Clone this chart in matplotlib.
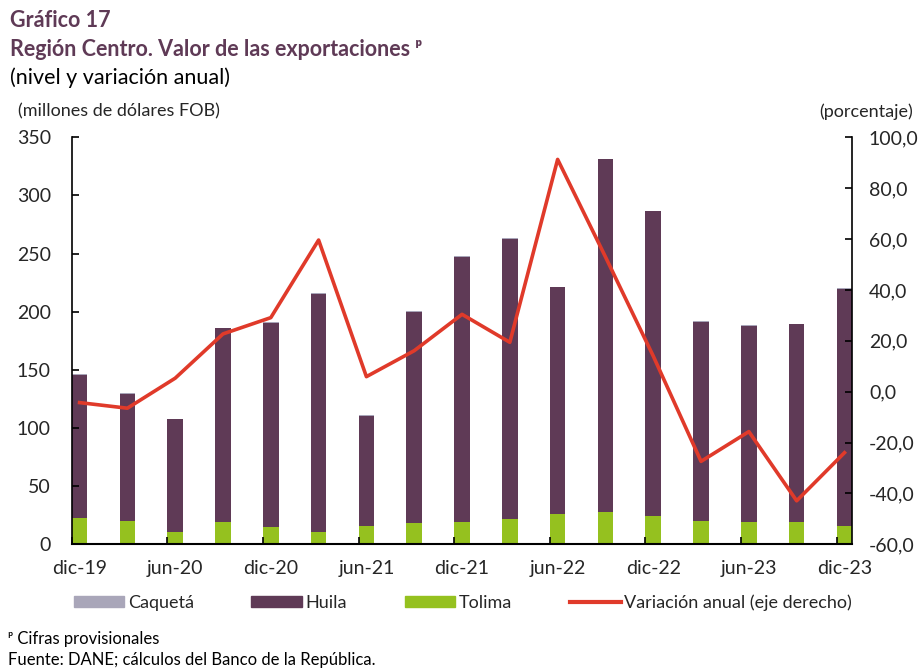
import numpy as np
import matplotlib.pyplot as plt
from matplotlib.patches import Patch
from matplotlib.lines import Line2D

periodos = ['dic-19', 'mar-20', 'jun-20', 'sep-20', 'dic-20', 'mar-21', 'jun-21', 'sep-21',
            'dic-21', 'mar-22', 'jun-22', 'sep-22', 'dic-22', 'mar-23', 'jun-23', 'sep-23', 'dic-23']
tolima = [22.3, 20.3, 10.3, 18.9, 14.9, 10.3, 15.7, 18.0, 18.9, 21.5, 25.8, 28.1, 24.6, 20.3, 18.9, 18.9, 15.7]
huila = [123.6, 109.0, 97.2, 166.8, 175.4, 205.3, 95.0, 182.1, 228.5, 241.4, 195.2, 303.0, 261.8, 170.9, 169.2, 170.3, 204.2]
caqueta = [0.5, 0.5, 0.5, 0.5, 0.5, 0.5, 0.5, 0.5, 0.5, 0.5, 0.5, 0.5, 0.5, 0.5, 0.5, 0.5, 0.5]
variacion = [-4.3, -6.5, 5.3, 22.7, 29.1, 59.6, 5.9, 16.1, 30.4, 19.4, 91.3, 53.0, 14.0, -27.4, -15.7, -42.9, -24.0]

c_huila = '#5f3a56'
c_tolima = '#95c11f'
c_caq = '#a9a6b9'
c_linea = '#e03a2a'
c_titulo = '#5f3a56'
c_texto = '#262626'

plt.rcParams['font.family'] = ['Lato', 'DejaVu Sans']

fig = plt.figure(figsize=(9.2, 6.69), dpi=100)
ax = fig.add_axes([0.078, 0.1864, 0.8484, 0.6084])

x = np.arange(len(periodos))
w = 0.327
tol = np.array(tolima)
hui = np.array(huila)
ax.bar(x, tol, w, color=c_tolima, label='Tolima')
ax.bar(x, hui, w, bottom=tol, color=c_huila, label='Huila')
ax.bar(x, caqueta, w, bottom=tol + hui, color=c_caq, label='Caquetá')

ax.set_xlim(-w / 2, len(periodos) - 1 + w / 2)
ax.set_ylim(0, 350)
ax.set_yticks(range(0, 351, 50))
ax.set_xticks(x[::2])
ax.set_xticklabels(periodos[::2])
ax.set_xticks(x[::2] - w / 2, minor=True)
ax.tick_params(axis='x', which='major', length=0, pad=11, labelsize=14, colors=c_texto)
ax.tick_params(axis='x', which='minor', direction='in', length=5, width=1.2)
ax.tick_params(axis='y', direction='in', length=5, width=1.2, pad=15, labelsize=14, labelcolor=c_texto)
for s in ['top', 'right']:
    ax.spines[s].set_visible(False)
ax.spines['left'].set_linewidth(1.2)
ax.spines['bottom'].set_linewidth(1.5)

ax2 = ax.twinx()
ax2.plot(x, variacion, color=c_linea, linewidth=2.6)
ax2.set_ylim(-60, 100)
ax2.set_yticks(range(-60, 101, 20))
ax2.set_yticklabels([f'{v:.1f}'.replace('.', ',') for v in range(-60, 101, 20)])
ax2.tick_params(axis='y', direction='in', length=5, width=1.2, pad=12, labelsize=14, labelcolor=c_texto)
for s in ['top', 'left', 'bottom']:
    ax2.spines[s].set_visible(False)
ax2.spines['right'].set_linewidth(1.2)

# titulos
fig.text(0.011, 0.969, 'Gráfico 17', fontsize=15.5, fontweight='bold', color=c_titulo, va='center')
fig.text(0.011, 0.926, 'Región Centro. Valor de las exportaciones ᵖ', fontsize=15.5, fontweight='bold',
         color=c_titulo, va='center')
fig.text(0.011, 0.884, '(nivel y variación anual)', fontsize=15.5, color='black', va='center')
fig.text(0.020, 0.833, '(millones de dólares FOB)', fontsize=13, color=c_texto, va='center')
fig.text(0.992, 0.833, '(porcentaje)', fontsize=13, color=c_texto, va='center', ha='right')

handles = [Patch(color=c_caq), Patch(color=c_huila), Patch(color=c_tolima),
           Line2D([0], [0], color=c_linea, linewidth=3)]
labels = ['Caquetá', 'Huila', 'Tolima', 'Variación anual (eje derecho)']
fig.legend(handles, labels, loc='center', bbox_to_anchor=(0.503, 0.099), ncol=4, frameon=False,
           fontsize=13, handlelength=2.8, handleheight=0.5, columnspacing=3.2, handletextpad=0.2,
           labelcolor=c_texto)

fig.text(0.009, 0.045, 'ᵖ Cifras provisionales', fontsize=12, va='center')
fig.text(0.009, 0.013, 'Fuente: DANE; cálculos del Banco de la República.', fontsize=12, va='center')

fig.savefig('out.png', dpi=100)
